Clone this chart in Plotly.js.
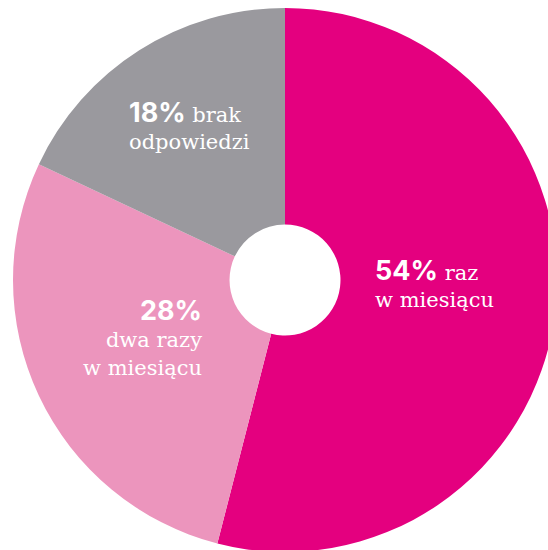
<!DOCTYPE html>
<html>
<head>
<meta charset="utf-8">
<script src="https://cdn.plot.ly/plotly-3.0.1.min.js"></script>
<style>
html,body{margin:0;padding:0;overflow:hidden;background:#fff;width:548px;height:550px;}
#chart{width:570px;height:560px;}
</style>
</head>
<body>
<div id="chart"></div>
<script>
const categories = ["raz\nw miesiącu", "dwa razy\nw miesiącu", "brak\nodpowiedzi"];
const values = [54, 28, 18];
const percentLabels = ["54%", "28%", "18%"];
const labelLines = [["raz", "w miesiącu"], ["dwa razy", "w miesiącu"], ["brak", "odpowiedzi"]];
const colors = ["#E4007F", "#EC95BD", "#9A999E"];

const boldStyle = "font-family:Inter;font-weight:bold;font-size:27px";
function pct(i){ return '<span style="' + boldStyle + '">' + percentLabels[i] + '</span>'; }

const annTexts = [
  pct(0) + ' ' + labelLines[0][0] + '<br>' + labelLines[0][1],
  pct(1) + '<br>' + labelLines[1][0] + '<br>' + labelLines[1][1],
  pct(2) + ' ' + labelLines[2][0] + '<br>' + labelLines[2][1]
];

// paper coordinates of label anchors (layout positions)
const W = 544, L = 13, T = 8;
function px(x){ return (x - L) / W; }
function py(y){ return 1 - (y - T) / W; }

const annotations = [
  {x: px(373), y: py(283), xanchor: 'left', yanchor: 'middle', align: 'left', text: annTexts[0]},
  {x: px(204), y: py(337), xanchor: 'right', yanchor: 'middle', align: 'right', text: annTexts[1]},
  {x: px(127), y: py(125), xanchor: 'left', yanchor: 'middle', align: 'left', text: annTexts[2]}
].map(a => Object.assign({xref: 'paper', yref: 'paper', showarrow: false,
  font: {family: 'DejaVu Serif', size: 21, color: '#ffffff'}}, a));

const trace = {
  type: 'pie',
  labels: categories,
  values: values,
  sort: false,
  direction: 'clockwise',
  rotation: 0,
  hole: 0.204,
  marker: {colors: colors, line: {width: 0}},
  textinfo: 'none',
  hoverinfo: 'none',
  showlegend: false
};

Plotly.newPlot('chart', [trace], {
  width: 570, height: 560,
  margin: {l: 13, r: 13, t: 8, b: 8, pad: 0},
  paper_bgcolor: '#ffffff',
  plot_bgcolor: '#ffffff',
  annotations: annotations,
  showlegend: false
}, {staticPlot: true, displayModeBar: false});
</script>
</body>
</html>
